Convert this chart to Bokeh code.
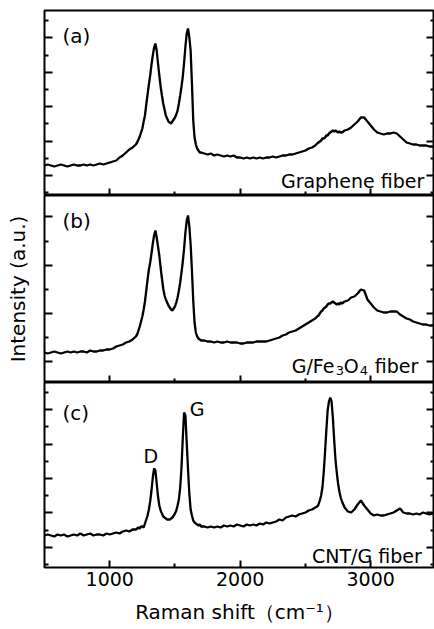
from bokeh.plotting import figure
from bokeh.layouts import column
from bokeh.models import FixedTicker, LinearAxis, Range1d, Label, CustomJSTickFormatter
from bokeh.embed import file_html
from bokeh.resources import INLINE

# ---------------- data ----------------
raman_shift = [
    500, 525, 550, 575, 600, 625, 650, 675, 700, 725, 750, 775, 800, 825, 850,
    875, 900, 925, 950, 975, 1000, 1025, 1050, 1075, 1100, 1125, 1150, 1175, 1200,
    1210, 1220, 1230, 1240, 1250, 1260, 1270, 1280, 1290, 1300,
    1310, 1320, 1330, 1340, 1350, 1360, 1370, 1380, 1390, 1400,
    1410, 1420, 1430, 1440, 1450, 1460, 1470, 1480, 1490, 1500,
    1510, 1520, 1530, 1540, 1550, 1560, 1570, 1580, 1590, 1600,
    1610, 1620, 1630, 1640, 1650, 1660, 1670, 1680, 1690, 1700,
    1725, 1750, 1775, 1800, 1825, 1850, 1875, 1900, 1925, 1950, 1975, 2000,
    2025, 2050, 2075, 2100, 2125, 2150, 2175, 2200, 2225, 2250, 2275, 2300,
    2325, 2350, 2375, 2400, 2425, 2450, 2475, 2500, 2525, 2550, 2575,
    2590, 2600, 2610, 2620, 2630, 2640, 2650, 2660, 2670, 2680, 2690,
    2700, 2710, 2720, 2730, 2740, 2750, 2760, 2770, 2780, 2790, 2800,
    2825, 2850, 2875, 2900, 2925, 2950, 2975, 3000, 3025, 3050, 3075, 3100,
    3125, 3150, 3175, 3200, 3225, 3250, 3275, 3300, 3325, 3350, 3375, 3400,
    3425, 3450, 3475, 3490,
]

intensity_graphene = [
    30, 31, 30, 29, 30, 31, 30, 29, 30, 31, 30, 30, 31, 30, 31,
    30, 31, 32, 31, 32, 33, 34, 35, 38, 40, 43, 46, 48, 51,
    53, 56, 59, 63, 67, 74, 80, 91, 101, 111,
    120, 131, 140, 148, 152, 145, 132, 120, 109, 100,
    92, 86, 80, 77, 74, 73, 72, 74, 76, 78,
    81, 85, 92, 100, 109, 119, 133, 149, 162, 167,
    158, 145, 112, 75, 58, 51, 47, 45, 43, 43,
    42, 41, 42, 40, 41, 40, 39, 40, 39, 40, 38, 38,
    37, 38, 37, 38, 37, 38, 37, 38, 38, 39, 38, 39,
    40, 40, 41, 41, 42, 43, 44, 45, 47, 48, 50,
    52, 53, 54, 55, 57, 57, 58, 60, 60, 62, 63,
    64, 65, 64, 65, 64, 63, 64, 63, 63, 64, 65,
    66, 68, 71, 74, 78, 78, 74, 70, 66, 63, 62, 61,
    62, 62, 63, 62, 59, 56, 53, 52, 51, 51, 50, 50,
    50, 49, 49, 49,
]

intensity_g_fe3o4 = [
    30, 29, 30, 31, 30, 29, 30, 31, 30, 31, 30, 31, 31, 30, 32,
    31, 31, 32, 32, 33, 33, 34, 36, 37, 38, 40, 41, 43, 46,
    48, 52, 56, 61, 66, 73, 81, 92, 103, 113,
    120, 129, 139, 147, 152, 145, 136, 127, 115, 104,
    94, 87, 83, 80, 77, 75, 73, 72, 74, 76,
    80, 85, 92, 100, 110, 121, 134, 150, 162, 167,
    156, 138, 112, 82, 60, 50, 46, 44, 43, 42,
    42, 41, 41, 40, 41, 40, 40, 41, 40, 40, 40, 39,
    39, 40, 40, 40, 41, 41, 41, 41, 42, 43, 44, 45,
    47, 48, 50, 51, 52, 54, 56, 58, 60, 62, 64,
    66, 67, 69, 71, 72, 74, 75, 76, 78, 79, 79,
    80, 81, 80, 79, 78, 79, 78, 80, 79, 80, 81,
    82, 85, 86, 89, 93, 92, 83, 79, 75, 72, 71, 70,
    70, 71, 71, 71, 68, 66, 64, 63, 61, 60, 59, 58,
    58, 57, 57, 57,
]

intensity_cnt_g = [
    32, 33, 32, 31, 33, 32, 33, 31, 32, 33, 32, 34, 32, 33, 34,
    32, 33, 33, 32, 34, 33, 34, 35, 34, 36, 37, 36, 38, 38,
    39, 40, 39, 41, 41, 40, 44, 48, 52, 58,
    66, 77, 90, 99, 97, 84, 71, 62, 57, 54,
    51, 50, 49, 48, 48, 48, 49, 50, 52, 54,
    57, 62, 68, 80, 100, 130, 155, 152, 125, 98,
    74, 58, 52, 47, 45, 44, 43, 42, 43, 41,
    41, 40, 41, 40, 41, 40, 42, 41, 42, 41, 43, 42,
    41, 43, 42, 43, 42, 44, 43, 45, 44, 45, 46, 48,
    47, 50, 51, 52, 51, 53, 54, 55, 57, 58, 60,
    61, 63, 67, 72, 80, 95, 115, 137, 157, 166, 170,
    166, 150, 128, 108, 95, 84, 76, 70, 66, 63, 60,
    56, 55, 58, 63, 67, 62, 58, 54, 52, 53, 52, 52,
    53, 54, 55, 57, 59, 55, 54, 54, 53, 54, 53, 55,
    54, 53, 54, 54,
]

x_major_ticks = [1000, 2000, 3000]
x_minor_ticks = [1500, 2500]
panel_letters = ["(a)", "(b)", "(c)"]
sample_names = ["Graphene fiber", "G/Fe3O4 fiber", "CNT/G fiber"]
band_names = ["D", "G"]

assert len(raman_shift) == len(intensity_graphene) == len(intensity_g_fe3o4) == len(intensity_cnt_g)

FONT = "DejaVu Sans"
X0, X1 = 500, 3489


def blank_axis(ax):
    ax.formatter = CustomJSTickFormatter(code="return '';")
    ax.major_label_text_font_size = "0px"
    ax.major_label_standoff = 0


def style_ticks(ax, major_len, minor_len):
    ax.major_tick_in = major_len
    ax.major_tick_out = 0
    ax.minor_tick_in = minor_len
    ax.minor_tick_out = 0
    ax.major_tick_line_width = 2
    ax.minor_tick_line_width = 2
    ax.major_tick_line_color = "black"
    ax.minor_tick_line_color = "black"
    ax.axis_line_color = None


def make_panel(y_vals, height, ymax, top, bottom, y_major, y_minor, x_labels, y_label=None):
    p = figure(width=434, height=height, x_range=Range1d(X0, X1), y_range=Range1d(0, ymax),
               output_backend="svg", toolbar_location=None,
               min_border_left=44, min_border_right=0,
               min_border_top=top, min_border_bottom=bottom)
    p.background_fill_color = "white"
    p.border_fill_color = "white"
    p.outline_line_color = "black"
    p.outline_line_width = 2
    p.xgrid.grid_line_color = None
    p.ygrid.grid_line_color = None

    # x axis (below)
    xa = p.xaxis[0]
    xa.ticker = FixedTicker(ticks=x_major_ticks, minor_ticks=x_minor_ticks)
    style_ticks(xa, 7, 4)
    if x_labels:
        xa.major_label_text_font = FONT
        xa.major_label_text_font_size = "19px"
        xa.major_label_text_color = "black"
        xa.major_label_standoff = 4
        xa.axis_label = "Raman shift\uff08cm\u207b\u00b9\uff09"
        xa.axis_label_text_font = FONT
        xa.axis_label_text_font_size = "20px"
        xa.axis_label_text_font_style = "normal"
        xa.axis_label_text_color = "black"
        xa.axis_label_standoff = 11
    else:
        blank_axis(xa)

    # y axes (left and right), ticks pointing inward
    ya = p.yaxis[0]
    ya.ticker = FixedTicker(ticks=y_major, minor_ticks=y_minor)
    style_ticks(ya, 8, 4)
    blank_axis(ya)
    if y_label:
        ya.axis_label = y_label
        ya.axis_label_text_font = FONT
        ya.axis_label_text_font_size = "20px"
        ya.axis_label_text_font_style = "normal"
        ya.axis_label_text_color = "black"
        ya.axis_label_standoff = 15
    ra = LinearAxis(ticker=FixedTicker(ticks=y_major, minor_ticks=y_minor))
    style_ticks(ra, 8, 4)
    blank_axis(ra)
    p.add_layout(ra, "right")

    p.line(raman_shift, y_vals, line_color="black", line_width=2.3)
    return p


def ticks(start, step, n):
    return [round(start + step * k, 2) for k in range(n)]


pa = make_panel(intensity_graphene, 195, 185, 10, 0,
                ticks(20, 34.4, 5), ticks(2.8, 34.4, 6), False)
pb = make_panel(intensity_g_fe3o4, 187, 187, 0, 0,
                ticks(21, 48.2, 4), ticks(45.1, 48.2, 3), False, y_label="Intensity (a.u.)")
pc = make_panel(intensity_cnt_g, 247, 185, 0, 62,
                ticks(20.3, 34.4, 5), ticks(3.1, 34.4, 6), True)


def add_text(p, x, y, text, size, align="left", baseline="middle", dx=0, dy=0):
    p.add_layout(Label(x=x, y=y, x_offset=dx, y_offset=dy, text=text, text_font=FONT,
                       text_font_size=size, text_color="black",
                       text_align=align, text_baseline=baseline))


add_text(pa, 638, 160, panel_letters[0], "20px")
add_text(pb, 638, 162, panel_letters[1], "20px")
add_text(pc, 638, 155, panel_letters[2], "20px")

add_text(pa, 3410, 15, sample_names[0], "19px", align="right", baseline="alphabetic")
add_text(pc, 3391, 12, sample_names[2], "19px", align="right", baseline="alphabetic")

# "G/Fe3O4 fiber" with lowered, smaller digits (pieces laid out from the right end)
name_b = sample_names[1]
pieces = [(name_b[0:4], "19px", 0, -129), (name_b[4], "13px", -5, -85),
          (name_b[5], "19px", 0, -77), (name_b[6], "13px", -5, -61),
          (name_b[8:], "19px", 0, -46)]
for txt, size, dy, dx in pieces:
    add_text(pb, 3383, 17, txt, size, align="left", baseline="alphabetic", dx=dx, dy=dy)

add_text(pc, 1315, 112, band_names[0], "19px", align="center", baseline="alphabetic")
add_text(pc, 1670, 159, band_names[1], "19px", align="center", baseline="alphabetic")

layout = column(pa, pb, pc, spacing=0)

with open("out.html", "w") as f:
    f.write(file_html(layout, INLINE))
